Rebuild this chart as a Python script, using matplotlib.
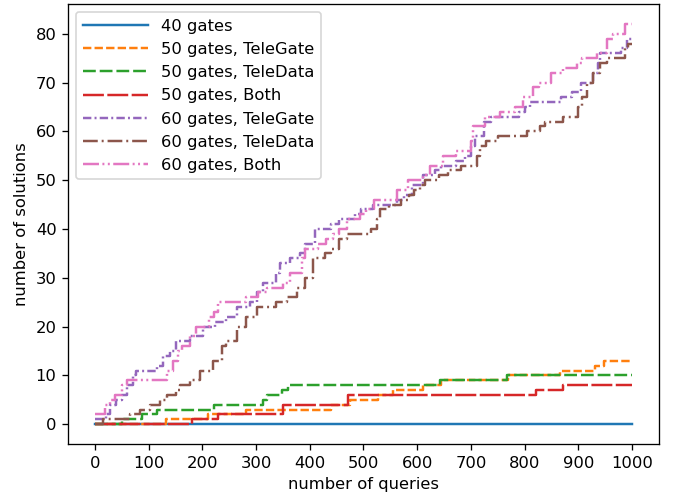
import numpy as np
import matplotlib
matplotlib.use('Agg')
import matplotlib.pyplot as plt

# step change points: (queries, solutions)
q40 = [0]
s40 = [0]

q50_tg = [0, 132, 211, 282, 440, 475, 527, 555, 610, 645, 769, 866, 931, 948]
s50_tg = [0, 1, 2, 3, 4, 5, 6, 7, 8, 9, 10, 11, 12, 13]

q50_td = [0, 50, 87, 115, 222, 313, 320, 348, 360, 642, 767]
s50_td = [0, 1, 2, 3, 4, 5, 6, 7, 8, 9, 10]

q50_both = [0, 181, 229, 350, 471, 822, 872]
s50_both = [0, 1, 2, 4, 6, 7, 8]

q60_tg = [0, 20, 28, 40, 50, 59, 71, 77, 115, 127, 140, 152, 177, 201, 224, 245, 264,
          289, 301, 313, 338, 345, 363, 382, 392, 410, 440, 455, 485, 495, 518, 562,
          575, 590, 610, 633, 645, 673, 690, 701, 708, 725, 738, 790, 800, 810, 868,
          888, 905, 928, 936, 940, 980, 990]
s60_tg = [1, 2, 4, 5, 6, 8, 10, 11, 12, 14, 15, 17, 18, 20, 21, 22, 24,
          25, 27, 29, 31, 33, 34, 35, 37, 40, 41, 42, 43, 44, 45, 46,
          47, 49, 51, 52, 53, 54, 55, 57, 59, 62, 63, 64, 65, 66, 67,
          68, 70, 72, 74, 76, 77, 79]

q60_td = [0, 15, 65, 84, 102, 121, 135, 152, 158, 177, 196, 220, 236, 245, 264, 282,
          301, 338, 357, 376, 391, 407, 428, 440, 455, 469, 515, 525, 531, 547, 570,
          585, 595, 605, 614, 640, 658, 682, 711, 717, 729, 751, 804, 829, 838, 872,
          900, 906, 916, 928, 940, 953, 987, 993]
s60_td = [0, 1, 2, 3, 4, 5, 6, 7, 8, 9, 11, 13, 16, 17, 20, 22,
          24, 25, 26, 28, 30, 34, 35, 36, 38, 39, 40, 42, 44, 45, 46,
          47, 48, 49, 50, 51, 52, 53, 55, 57, 58, 59, 60, 61, 62, 63,
          65, 67, 70, 72, 74, 75, 77, 78]

q60_both = [0, 19, 28, 37, 50, 60, 135, 145, 155, 163, 177, 189, 212, 222, 230, 282,
            304, 320, 351, 363, 385, 392, 415, 430, 444, 455, 469, 493, 505, 520, 562,
            583, 611, 624, 649, 673, 701, 704, 726, 754, 782, 798, 816, 826, 850, 872,
            897, 906, 934, 953, 965, 987]
s60_both = [2, 4, 5, 6, 8, 9, 11, 13, 15, 16, 18, 20, 22, 23, 25, 26,
            27, 28, 29, 31, 34, 36, 37, 38, 39, 40, 42, 43, 44, 46, 48,
            50, 51, 53, 55, 56, 58, 61, 63, 64, 65, 67, 69, 70, 72, 73,
            74, 75, 76, 79, 80, 82]

series = [
    ("40 gates", q40, s40, '-'),
    ("50 gates, TeleGate", q50_tg, s50_tg, (0, (3.4, 1.3))),
    ("50 gates, TeleData", q50_td, s50_td, (0, (5.2, 1.6))),
    ("50 gates, Both", q50_both, s50_both, (0, (8.5, 1.4))),
    ("60 gates, TeleGate", q60_tg, s60_tg, (0, (3.4, 1.3, 0.8, 1.3))),
    ("60 gates, TeleData", q60_td, s60_td, (0, (6, 1.6, 0.8, 1.6))),
    ("60 gates, Both", q60_both, s60_both, (0, (6.5, 1.4, 0.8, 1.4, 0.8, 1.4))),
]

dpi = 118
fig = plt.figure(figsize=(673 / dpi, 498 / dpi), dpi=dpi)
ax = fig.add_axes([0.101, 0.108, 0.878, 0.884])

for label, q, s, ls in series:
    x = list(q) + [1000]
    y = list(s) + [s[-1]]
    ax.plot(x, y, drawstyle='steps-post', linestyle=ls, label=label)

ax.set_xticks(np.arange(0, 1001, 100))
ax.set_yticks(np.arange(0, 81, 10))
ax.set_xlabel('number of queries')
ax.set_ylabel('number of solutions')
ax.legend(loc='upper left', handlelength=4.0)

fig.savefig('out.png', dpi=dpi)
